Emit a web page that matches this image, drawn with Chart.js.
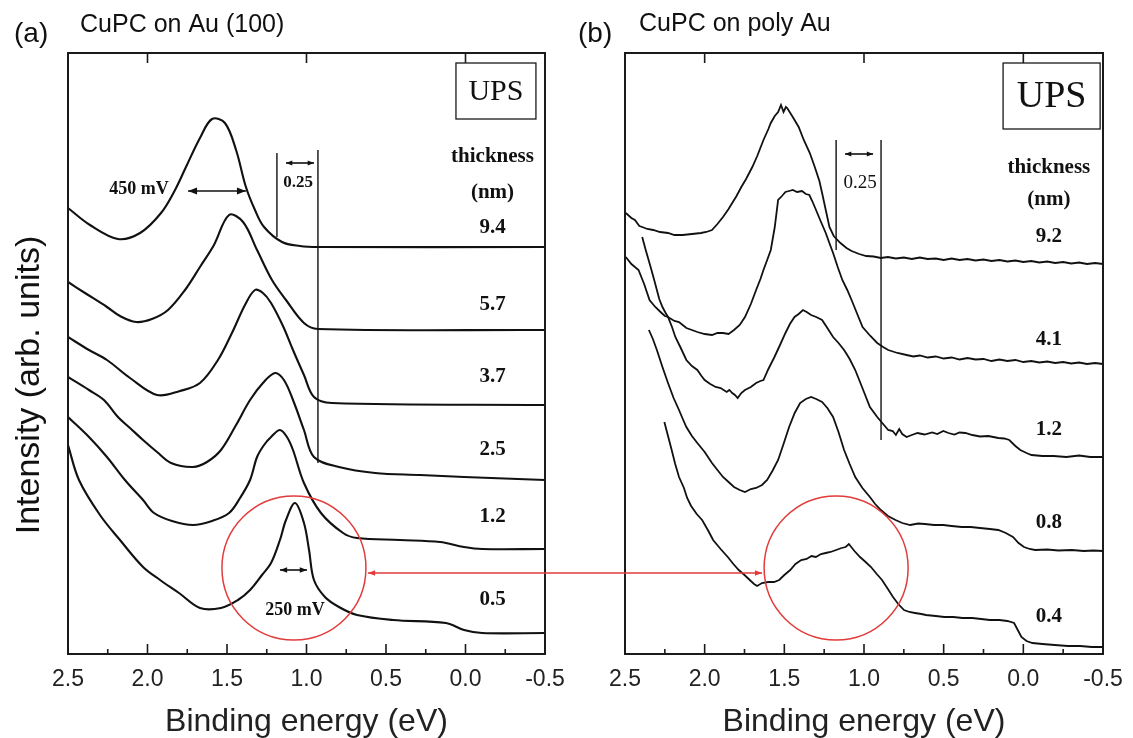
<!DOCTYPE html>
<html>
<head>
<meta charset="utf-8">
<script src="https://cdn.jsdelivr.net/npm/chart.js@4.4.1/dist/chart.umd.min.js"></script>
<style>
  html, body { margin: 0; padding: 0; background: #fff; overflow: hidden; }
  #wrap { position: relative; width: 1133px; height: 738px; }
  #chartA { position: absolute; left: 0; top: 0; }
  #chartB { position: absolute; left: 570px; top: 0; }
</style>
</head>
<body>
<div id="wrap">
  <canvas id="chartA" width="570" height="738"></canvas>
  <canvas id="chartB" width="563" height="738"></canvas>
</div>
<script>
// axis ticks (binding energy, eV)
const energyTicks = [2.5, 2.0, 1.5, 1.0, 0.5, 0.0, -0.5];
const minorTicks = [2.25, 1.75, 1.25, 0.75, 0.25, -0.25];
const topTicks = [2.0, 1.0, 0.0];

// film thickness labels (nm)
const thicknessA = ['9.4', '5.7', '3.7', '2.5', '1.2', '0.5'];
const thicknessB = ['9.2', '4.1', '1.2', '0.8', '0.4'];

// (a) CuPC on Au(100): [binding energy, intensity]
const a94 = [[2.5,4.46],[2.362,4.29],[2.186,4.15],[2.047,4.21],[1.915,4.41],[1.827,4.64],[1.758,4.87],[1.670,5.16],[1.594,5.35],[1.513,5.31],[1.443,5.04],[1.381,4.67],[1.324,4.44],[1.267,4.27],[1.154,4.12],[1.041,4.08],[0.928,4.07],[-0.5,4.07]];
const a57 = [[2.5,3.72],[2.393,3.61],[2.255,3.47],[2.173,3.38],[2.072,3.32],[1.972,3.35],[1.871,3.44],[1.764,3.64],[1.670,3.87],[1.582,4.09],[1.487,4.39],[1.399,4.32],[1.311,4.04],[1.217,3.74],[1.129,3.54],[1.016,3.31],[0.928,3.25],[-0.5,3.24]];
const a37 = [[2.5,3.17],[2.368,3.04],[2.255,2.94],[2.110,2.76],[1.940,2.59],[1.796,2.63],[1.670,2.71],[1.557,2.94],[1.469,3.21],[1.387,3.49],[1.324,3.64],[1.274,3.61],[1.223,3.51],[1.148,3.28],[1.085,3.04],[1.016,2.79],[0.953,2.57],[0.840,2.51],[-0.5,2.49]];
const a25 = [[2.5,2.77],[2.368,2.64],[2.274,2.54],[2.186,2.37],[2.110,2.26],[2.028,2.14],[1.940,2.02],[1.852,1.91],[1.714,1.87],[1.626,1.92],[1.538,2.04],[1.443,2.29],[1.355,2.54],[1.274,2.71],[1.198,2.81],[1.142,2.74],[1.085,2.54],[1.016,2.24],[0.953,1.97],[0.796,1.87],[0.569,1.81],[0.286,1.79],[0.009,1.77],[-0.5,1.74]];
const a12 = [[2.5,2.37],[2.368,2.17],[2.255,1.97],[2.142,1.74],[2.028,1.54],[1.959,1.41],[1.846,1.33],[1.714,1.29],[1.594,1.33],[1.487,1.41],[1.418,1.56],[1.355,1.74],[1.311,1.97],[1.267,2.09],[1.223,2.17],[1.167,2.24],[1.123,2.17],[1.085,2.04],[1.016,1.71],[0.909,1.41],[0.770,1.21],[0.682,1.16],[0.412,1.14],[0.160,1.12],[0.009,1.07],[-0.104,1.05],[-0.5,1.05]];
const a05 = [[2.5,2.09],[2.431,1.74],[2.299,1.39],[2.173,1.14],[2.028,0.87],[1.921,0.74],[1.802,0.61],[1.670,0.46],[1.538,0.46],[1.431,0.54],[1.355,0.64],[1.280,0.79],[1.223,0.91],[1.167,1.14],[1.129,1.34],[1.072,1.51],[1.016,1.31],[0.984,1.04],[0.953,0.74],[0.884,0.57],[0.796,0.47],[0.682,0.39],[0.456,0.34],[0.123,0.31],[0.009,0.24],[-0.104,0.21],[-0.5,0.21]];

// (b) CuPC on poly Au: [binding energy, intensity]
const b92 = [[2.495,4.41],[2.46,4.36],[2.438,4.34],[2.41,4.28],[2.392,4.27],[2.36,4.25],[2.323,4.24],[2.28,4.22],[2.23,4.21],[2.19,4.19],[2.138,4.19],[2.08,4.20],[2.023,4.21],[1.99,4.22],[1.954,4.24],[1.92,4.30],[1.885,4.37],[1.85,4.45],[1.827,4.51],[1.80,4.58],[1.77,4.67],[1.74,4.75],[1.701,4.87],[1.67,4.98],[1.631,5.14],[1.60,5.25],[1.585,5.31],[1.56,5.38],[1.539,5.42],[1.521,5.49],[1.505,5.42],[1.49,5.47],[1.482,5.46],[1.447,5.37],[1.41,5.27],[1.378,5.14],[1.34,5.01],[1.309,4.87],[1.28,4.73],[1.263,4.61],[1.24,4.44],[1.217,4.27],[1.19,4.18],[1.148,4.11],[1.11,4.06],[1.078,4.03],[1.03,4.0],[0.986,3.98],[0.94,3.975],[0.894,3.96],[0.85,3.97],[0.80,3.955],[0.75,3.965],[0.70,3.95],[0.65,3.965],[0.60,3.95],[0.55,3.955],[0.50,3.94],[0.45,3.955],[0.40,3.94],[0.35,3.95],[0.30,3.935],[0.25,3.945],[0.20,3.93],[0.15,3.94],[0.10,3.925],[0.05,3.935],[0.0,3.92],[-0.05,3.93],[-0.10,3.915],[-0.15,3.925],[-0.20,3.91],[-0.25,3.92],[-0.30,3.905],[-0.35,3.915],[-0.40,3.90],[-0.45,3.91],[-0.50,3.90]];
const b41 = [[2.495,3.97],[2.46,3.90],[2.415,3.84],[2.38,3.70],[2.346,3.54],[2.31,3.47],[2.277,3.42],[2.25,3.38],[2.23,3.37],[2.19,3.33],[2.161,3.32],[2.13,3.28],[2.115,3.26],[2.08,3.24],[2.046,3.22],[2.0,3.20],[1.954,3.19],[1.92,3.21],[1.885,3.21],[1.85,3.20],[1.816,3.24],[1.78,3.29],[1.747,3.37],[1.71,3.50],[1.677,3.64],[1.65,3.75],[1.631,3.84],[1.61,3.93],[1.585,4.04],[1.56,4.27],[1.539,4.54],[1.515,4.58],[1.493,4.62],[1.47,4.63],[1.447,4.64],[1.42,4.62],[1.389,4.63],[1.365,4.60],[1.343,4.59],[1.325,4.53],[1.309,4.47],[1.275,4.34],[1.24,4.21],[1.215,4.10],[1.194,4.01],[1.165,3.87],[1.136,3.74],[1.105,3.64],[1.078,3.54],[1.045,3.41],[1.009,3.27],[0.96,3.18],[0.917,3.11],[0.88,3.07],[0.848,3.04],[0.79,3.01],[0.733,2.99],[0.69,2.975],[0.65,2.985],[0.60,2.965],[0.55,2.975],[0.50,2.955],[0.45,2.965],[0.40,2.945],[0.35,2.96],[0.30,2.945],[0.25,2.95],[0.20,2.93],[0.15,2.945],[0.10,2.93],[0.05,2.94],[0.0,2.92],[-0.05,2.93],[-0.10,2.915],[-0.15,2.925],[-0.20,2.91],[-0.25,2.92],[-0.30,2.905],[-0.35,2.915],[-0.40,2.90],[-0.45,2.91],[-0.50,2.90]];
const b12 = [[2.392,4.17],[2.37,4.04],[2.35,3.93],[2.334,3.84],[2.315,3.73],[2.30,3.64],[2.285,3.55],[2.265,3.47],[2.245,3.41],[2.23,3.37],[2.205,3.27],[2.184,3.17],[2.15,3.06],[2.115,2.94],[2.08,2.88],[2.046,2.84],[2.02,2.78],[2.0,2.74],[1.965,2.70],[1.931,2.67],[1.90,2.66],[1.862,2.62],[1.845,2.64],[1.827,2.61],[1.81,2.59],[1.793,2.56],[1.77,2.61],[1.747,2.64],[1.71,2.67],[1.677,2.71],[1.65,2.73],[1.631,2.74],[1.60,2.85],[1.562,2.97],[1.53,3.08],[1.493,3.21],[1.465,3.30],[1.436,3.37],[1.41,3.40],[1.383,3.44],[1.36,3.42],[1.332,3.39],[1.30,3.37],[1.263,3.34],[1.23,3.26],[1.194,3.17],[1.16,3.11],[1.125,3.04],[1.09,2.95],[1.055,2.84],[1.01,2.66],[0.963,2.47],[0.94,2.42],[0.917,2.37],[0.88,2.30],[0.848,2.24],[0.82,2.23],[0.80,2.19],[0.779,2.25],[0.76,2.20],[0.733,2.17],[0.70,2.19],[0.664,2.21],[0.62,2.195],[0.572,2.215],[0.54,2.20],[0.502,2.23],[0.47,2.21],[0.433,2.195],[0.40,2.215],[0.364,2.21],[0.32,2.19],[0.272,2.175],[0.22,2.18],[0.157,2.16],[0.12,2.155],[0.088,2.14],[0.05,2.08],[0.019,2.04],[-0.02,2.01],[-0.051,1.99],[-0.12,1.98],[-0.189,1.98],[-0.27,1.97],[-0.35,1.985],[-0.42,1.97],[-0.5,1.97]];
const b08 = [[2.35,3.24],[2.325,3.15],[2.30,3.04],[2.265,2.87],[2.23,2.71],[2.195,2.56],[2.161,2.44],[2.14,2.36],[2.115,2.27],[2.08,2.18],[2.046,2.11],[2.00,2.02],[1.954,1.91],[1.92,1.84],[1.885,1.77],[1.85,1.72],[1.816,1.67],[1.78,1.64],[1.747,1.62],[1.71,1.65],[1.677,1.66],[1.64,1.69],[1.608,1.74],[1.575,1.83],[1.539,1.94],[1.505,2.10],[1.47,2.27],[1.435,2.41],[1.401,2.51],[1.365,2.55],[1.332,2.57],[1.30,2.55],[1.263,2.52],[1.23,2.46],[1.194,2.37],[1.16,2.22],[1.125,2.04],[1.09,1.90],[1.055,1.77],[1.01,1.66],[0.963,1.57],[0.93,1.50],[0.894,1.44],[0.85,1.38],[0.802,1.34],[0.76,1.31],[0.71,1.29],[0.66,1.305],[0.618,1.30],[0.56,1.29],[0.502,1.29],[0.45,1.28],[0.387,1.27],[0.33,1.27],[0.272,1.26],[0.21,1.25],[0.157,1.24],[0.11,1.21],[0.065,1.17],[0.03,1.11],[-0.004,1.07],[-0.04,1.05],[-0.074,1.04],[-0.15,1.045],[-0.22,1.035],[-0.304,1.04],[-0.38,1.03],[-0.44,1.035],[-0.5,1.03]];
const b04 = [[2.253,2.32],[2.23,2.18],[2.207,2.04],[2.185,1.90],[2.161,1.77],[2.13,1.66],[2.11,1.56],[2.085,1.48],[2.05,1.40],[2.016,1.34],[1.98,1.24],[1.947,1.14],[1.90,1.05],[1.855,0.97],[1.82,0.90],[1.786,0.84],[1.75,0.79],[1.717,0.74],[1.69,0.70],[1.671,0.68],[1.64,0.71],[1.602,0.72],[1.565,0.72],[1.532,0.74],[1.50,0.79],[1.463,0.84],[1.43,0.90],[1.394,0.94],[1.36,0.95],[1.33,0.98],[1.302,0.97],[1.27,1.00],[1.24,1.01],[1.21,1.02],[1.175,1.04],[1.141,1.06],[1.115,1.07],[1.095,1.10],[1.06,1.03],[1.025,0.97],[0.99,0.92],[0.956,0.87],[0.92,0.80],[0.887,0.74],[0.85,0.65],[0.818,0.57],[0.785,0.50],[0.749,0.44],[0.715,0.42],[0.68,0.41],[0.64,0.40],[0.611,0.39],[0.55,0.38],[0.496,0.37],[0.44,0.37],[0.381,0.36],[0.32,0.36],[0.265,0.35],[0.21,0.34],[0.15,0.34],[0.10,0.33],[0.058,0.31],[0.035,0.24],[0.012,0.17],[-0.02,0.13],[-0.057,0.11],[-0.12,0.10],[-0.196,0.09],[-0.28,0.08],[-0.357,0.08],[-0.43,0.07],[-0.5,0.07]];

const SANS = '"Liberation Sans", Arial, sans-serif';
const SERIF = '"Liberation Serif", "Times New Roman", serif';
const RED = '#e23b3b';

function text(ctx, s, x, y, font, align) {
  ctx.font = font;
  ctx.textAlign = align || 'center';
  ctx.textBaseline = 'middle';
  ctx.fillStyle = '#111';
  ctx.fillText(s, x, y);
}

function head(ctx, x, y, dir, h) {
  // dir -1 = pointing left, +1 = pointing right
  ctx.beginPath();
  ctx.moveTo(x, y);
  ctx.lineTo(x - dir * h * 1.8, y - h * 0.7);
  ctx.lineTo(x - dir * h * 1.8, y + h * 0.7);
  ctx.closePath();
  ctx.fill();
}

function dblArrow(ctx, xa, xb, y, h) {
  const l = Math.min(xa, xb), r = Math.max(xa, xb);
  ctx.beginPath();
  ctx.moveTo(l, y);
  ctx.lineTo(r, y);
  ctx.stroke();
  head(ctx, l, y, -1, h);
  head(ctx, r, y, 1, h);
}

function overlay(spec) {
  return {
    id: 'overlay',
    afterDraw(chart) {
      const { ctx, chartArea: ca, scales: { x, y } } = chart;
      const px = v => x.getPixelForValue(v);
      const py = v => y.getPixelForValue(v);
      ctx.save();

      // frame and inward ticks
      ctx.strokeStyle = '#1a1a1a';
      ctx.lineWidth = 2;
      ctx.strokeRect(ca.left, ca.top, ca.right - ca.left, ca.bottom - ca.top);
      ctx.lineWidth = 1.6;
      ctx.beginPath();
      energyTicks.forEach(v => { ctx.moveTo(px(v), ca.bottom); ctx.lineTo(px(v), ca.bottom - 10); });
      minorTicks.forEach(v => { ctx.moveTo(px(v), ca.bottom); ctx.lineTo(px(v), ca.bottom - 5); });
      topTicks.forEach(v => { ctx.moveTo(px(v), ca.top); ctx.lineTo(px(v), ca.top + 10); });
      ctx.stroke();

      // UPS box
      const bx = spec.box;
      ctx.lineWidth = 1.3;
      ctx.fillStyle = '#fff';
      ctx.fillRect(px(bx.x1), py(bx.y1), px(bx.x2) - px(bx.x1), py(bx.y2) - py(bx.y1));
      ctx.strokeRect(px(bx.x1), py(bx.y1), px(bx.x2) - px(bx.x1), py(bx.y2) - py(bx.y1));
      text(ctx, 'UPS', (px(bx.x1) + px(bx.x2)) / 2, (py(bx.y1) + py(bx.y2)) / 2 + 1, bx.font);

      // vertical guide lines and small arrows
      ctx.strokeStyle = '#111';
      ctx.fillStyle = '#111';
      ctx.lineWidth = 1.4;
      spec.vlines.forEach(l => {
        ctx.beginPath();
        ctx.moveTo(px(l[0]), py(l[1]));
        ctx.lineTo(px(l[0]), py(l[2]));
        ctx.stroke();
      });
      ctx.lineWidth = 1.6;
      spec.arrows.forEach(a => { ctx.fillStyle = '#111'; dblArrow(ctx, px(a[0]), px(a[1]), py(a[2]), a[3]); });

      // text notes
      spec.notes.forEach(n => text(ctx, n[0], px(n[1]), py(n[2]), n[3]));
      text(ctx, 'thickness', px(spec.labelX), py(spec.headY[0]), spec.labelFont);
      text(ctx, '(nm)', px(spec.labelX), py(spec.headY[1]), spec.labelFont);
      spec.labels.forEach((s, i) => text(ctx, s, px(spec.labelX), py(spec.labelY[i]), spec.labelFont));

      // panel titles
      text(ctx, spec.tag, spec.tagPos[0], spec.tagPos[1], '28px ' + SANS, 'left');
      text(ctx, spec.title, spec.titlePos[0], spec.titlePos[1], '25px ' + SANS, 'left');
      if (spec.yTitle) {
        ctx.save();
        ctx.translate(30, 385);
        ctx.rotate(-Math.PI / 2);
        text(ctx, spec.yTitle, 0, 0, '34px ' + SANS);
        ctx.restore();
      }

      // red circle and connector
      const c = spec.circle;
      const cx = px(c.x), cy = py(c.y);
      ctx.strokeStyle = RED;
      ctx.fillStyle = RED;
      ctx.lineWidth = 1.5;
      ctx.beginPath();
      ctx.arc(cx, cy, c.r, 0, Math.PI * 2);
      ctx.stroke();
      const ly = py(spec.linkY);
      ctx.lineWidth = 1.3;
      ctx.beginPath();
      if (spec.linkSide === 'right') {
        ctx.moveTo(cx + c.r + 2, ly);
        ctx.lineTo(chart.width, ly);
        ctx.stroke();
        head(ctx, cx + c.r + 2, ly, -1, 4);
      } else {
        ctx.moveTo(0, ly);
        ctx.lineTo(cx - c.r - 2, ly);
        ctx.stroke();
        head(ctx, cx - c.r - 2, ly, 1, 4);
      }
      ctx.restore();
    }
  };
}

function makeChart(id, spec) {
  return new Chart(document.getElementById(id), {
    type: 'line',
    data: {
      datasets: spec.curves.map(cv => ({
        data: cv.map(p => ({ x: p[0], y: p[1] })),
        borderColor: '#111',
        borderWidth: spec.lineWidth,
        pointRadius: 0,
        tension: spec.tension,
        fill: false
      }))
    },
    options: {
      responsive: false,
      animation: false,
      devicePixelRatio: 1,
      layout: { padding: { left: 0, right: spec.padRight, top: 53, bottom: 0 } },
      plugins: { legend: { display: false }, tooltip: { enabled: false } },
      scales: {
        x: {
          type: 'linear',
          reverse: true,
          min: -0.5,
          max: 2.5,
          afterFit: s => { s.height = 84; s.paddingLeft = 0; s.paddingRight = 0; },
          afterBuildTicks: s => { s.ticks = energyTicks.map(v => ({ value: v })); },
          grid: { display: false, drawTicks: false },
          border: { display: false },
          ticks: {
            autoSkip: false,
            maxRotation: 0,
            padding: 12,
            color: '#222',
            font: { family: SANS, size: 23 },
            callback: v => Number(v).toFixed(1)
          },
          title: {
            display: true,
            text: 'Binding energy (eV)',
            color: '#222',
            font: { family: SANS, size: 32 },
            padding: { top: 0, bottom: -3 }
          }
        },
        y: {
          type: 'linear',
          min: 0,
          max: 6.01,
          afterFit: s => { s.width = spec.yWidth; s.paddingTop = 0; s.paddingBottom = 0; },
          grid: { display: false, drawTicks: false },
          border: { display: false },
          ticks: { display: false }
        }
      }
    },
    plugins: [overlay(spec)]
  });
}

makeChart('chartA', {
  curves: [a94, a57, a37, a25, a12, a05],
  lineWidth: 2.1,
  tension: 0.35,
  padRight: 25,
  yWidth: 68,
  box: { x1: 0.060, x2: -0.443, y1: 5.91, y2: 5.35, font: '30px ' + SERIF },
  vlines: [[1.186, 5.01, 4.17], [0.928, 5.04, 1.91]],
  arrows: [[1.129, 0.953, 4.91, 3.5], [1.745, 1.381, 4.63, 5], [1.167, 0.997, 0.84, 4]],
  notes: [['0.25', 1.053, 4.71, 'bold 17px ' + SERIF], ['450 mV', 2.053, 4.65, 'bold 18px ' + SERIF], ['250 mV', 1.072, 0.44, 'bold 18px ' + SERIF]],
  labels: thicknessA,
  labelX: -0.17,
  labelY: [4.26, 3.49, 2.77, 2.04, 1.37, 0.54],
  headY: [4.97, 4.61],
  labelFont: 'bold 21px ' + SERIF,
  tag: '(a)', tagPos: [14, 34],
  title: 'CuPC on Au (100)', titlePos: [80, 25],
  yTitle: 'Intensity (arb. units)',
  circle: { x: 1.079, y: 0.86, r: 72 },
  linkY: 0.81,
  linkSide: 'right'
});

makeChart('chartB', {
  curves: [b92, b41, b12, b08, b04],
  lineWidth: 1.8,
  tension: 0,
  padRight: 30,
  yWidth: 55,
  box: { x1: 0.127, x2: -0.482, y1: 5.91, y2: 5.25, font: '38px ' + SERIF },
  vlines: [[1.175, 5.14, 4.04], [0.893, 5.14, 2.14]],
  arrows: [[1.119, 0.943, 5.00, 3.5]],
  notes: [['0.25', 1.025, 4.71, '19px ' + SERIF]],
  labels: thicknessB,
  labelX: -0.16,
  labelY: [4.17, 3.14, 2.24, 1.31, 0.37],
  headY: [4.86, 4.54],
  labelFont: 'bold 21px ' + SERIF,
  tag: '(b)', tagPos: [8, 34],
  title: 'CuPC on poly Au', titlePos: [69, 24],
  yTitle: null,
  circle: { x: 1.175, y: 0.86, r: 72 },
  linkY: 0.81,
  linkSide: 'left'
});
</script>
</body>
</html>
